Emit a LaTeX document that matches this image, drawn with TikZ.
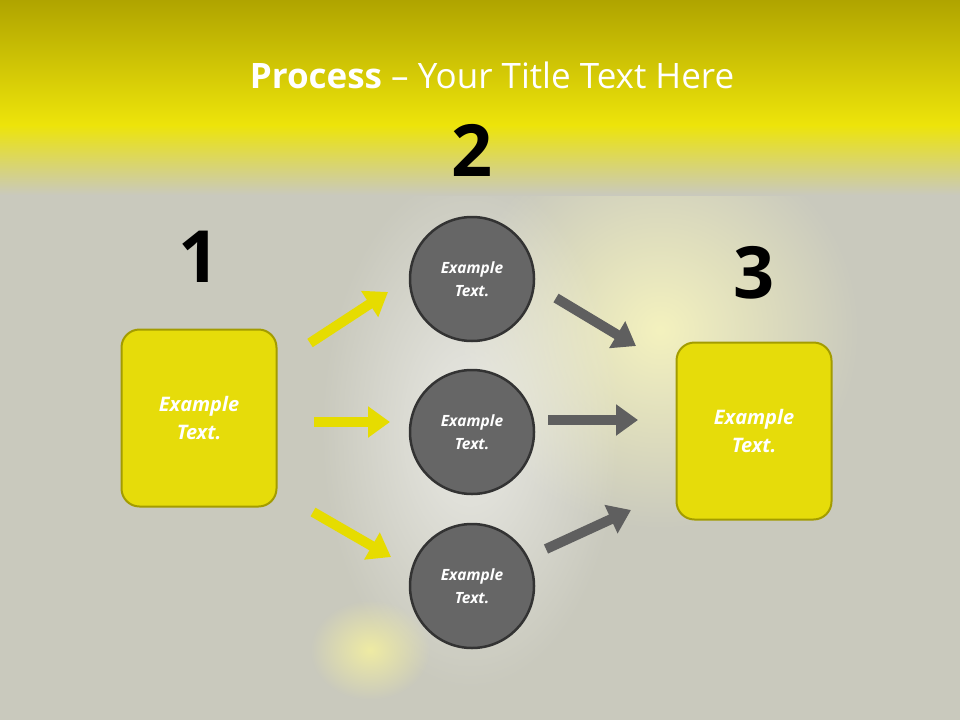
\documentclass[tikz,border=0pt]{standalone}
\usepackage{fontspec}
\setmainfont{Open Sans}
\usetikzlibrary{arrows.meta,fadings}
\tikzfading[name=glow,inner color=transparent!0,outer color=transparent!100]
\definecolor{bg}{HTML}{C9C9BD}
\definecolor{ytop}{HTML}{B0A400}
\definecolor{ybright}{HTML}{EDE40A}
\definecolor{boxy}{HTML}{E6DC0A}
\definecolor{boxb}{HTML}{A39C00}
\definecolor{circf}{HTML}{666666}
\definecolor{arry}{HTML}{E6DC00}
\definecolor{arrg}{HTML}{5F5F5F}
\tikzset{
  box/.style={draw=boxb,line width=2pt,fill=boxy,rounded corners=18pt,minimum width=155pt,minimum height=177pt,text=white,font=\bfseries\itshape\fontsize{20}{28}\selectfont,align=center},
  circ/.style={circle,draw=black!80,line width=2.5pt,fill=circf,minimum size=124pt,text=white,font=\bfseries\itshape\fontsize{15.5}{23}\selectfont,align=center},
  num/.style={font=\bfseries\fontsize{72}{72}\selectfont,text=black},
  yarr/.style={draw=arry,line width=10pt,-{Triangle[length=22pt,width=30pt]}},
  garr/.style={draw=arrg,line width=10pt,-{Triangle[length=22pt,width=30pt]}},
  glowfill/.style={path fading=glow,fit fading=true}
}
\begin{document}
\begin{tikzpicture}[x=1pt,y=-1pt]
\useasboundingbox (0,0) rectangle (960,720);
\fill[bg] (0,0) rectangle (960,720);
\fill[white!75!yellow,glowfill,opacity=0.8] (660,330) circle (200);
\fill[white,glowfill,opacity=0.6] (470,430) ellipse (150 and 260);
\fill[white!60!yellow,glowfill,opacity=0.7] (370,650) ellipse (60 and 50);
\shade[top color=ytop,bottom color=ybright] (0,0) rectangle (960,125);
\shade[top color=ybright,bottom color=bg] (0,125) rectangle (960,195);
\node[text=white,font=\fontsize{35}{40}\selectfont] (title) at (492,75) {\textbf{Process} -- Your Title Text Here};
\node[box] (b1) at (199,418) {Example\\Text.};
\node[box] (b3) at (754,431) {Example\\Text.};
\node[circ] (c1) at (472,279) {Example\\Text.};
\node[circ] (c2) at (472,432) {Example\\Text.};
\node[circ] (c3) at (472,586) {Example\\Text.};
\node[num] (n1) at (199,257) {1};
\node[num] (n2) at (472,150) {2};
\node[num] (n3) at (754,273) {3};
\coordinate (y1s) at (310,343); \coordinate (y1e) at (388,292);
\coordinate (y2s) at (314,422); \coordinate (y2e) at (390,422);
\coordinate (y3s) at (313,512); \coordinate (y3e) at (391,557);
\coordinate (g1s) at (556,298); \coordinate (g1e) at (636,346);
\coordinate (g2s) at (548,420); \coordinate (g2e) at (638,420);
\coordinate (g3s) at (546,549); \coordinate (g3e) at (631,510);
\draw[yarr] (y1s) -- (y1e);
\draw[yarr] (y2s) -- (y2e);
\draw[yarr] (y3s) -- (y3e);
\draw[garr] (g1s) -- (g1e);
\draw[garr] (g2s) -- (g2e);
\draw[garr] (g3s) -- (g3e);
\end{tikzpicture}
\end{document}
